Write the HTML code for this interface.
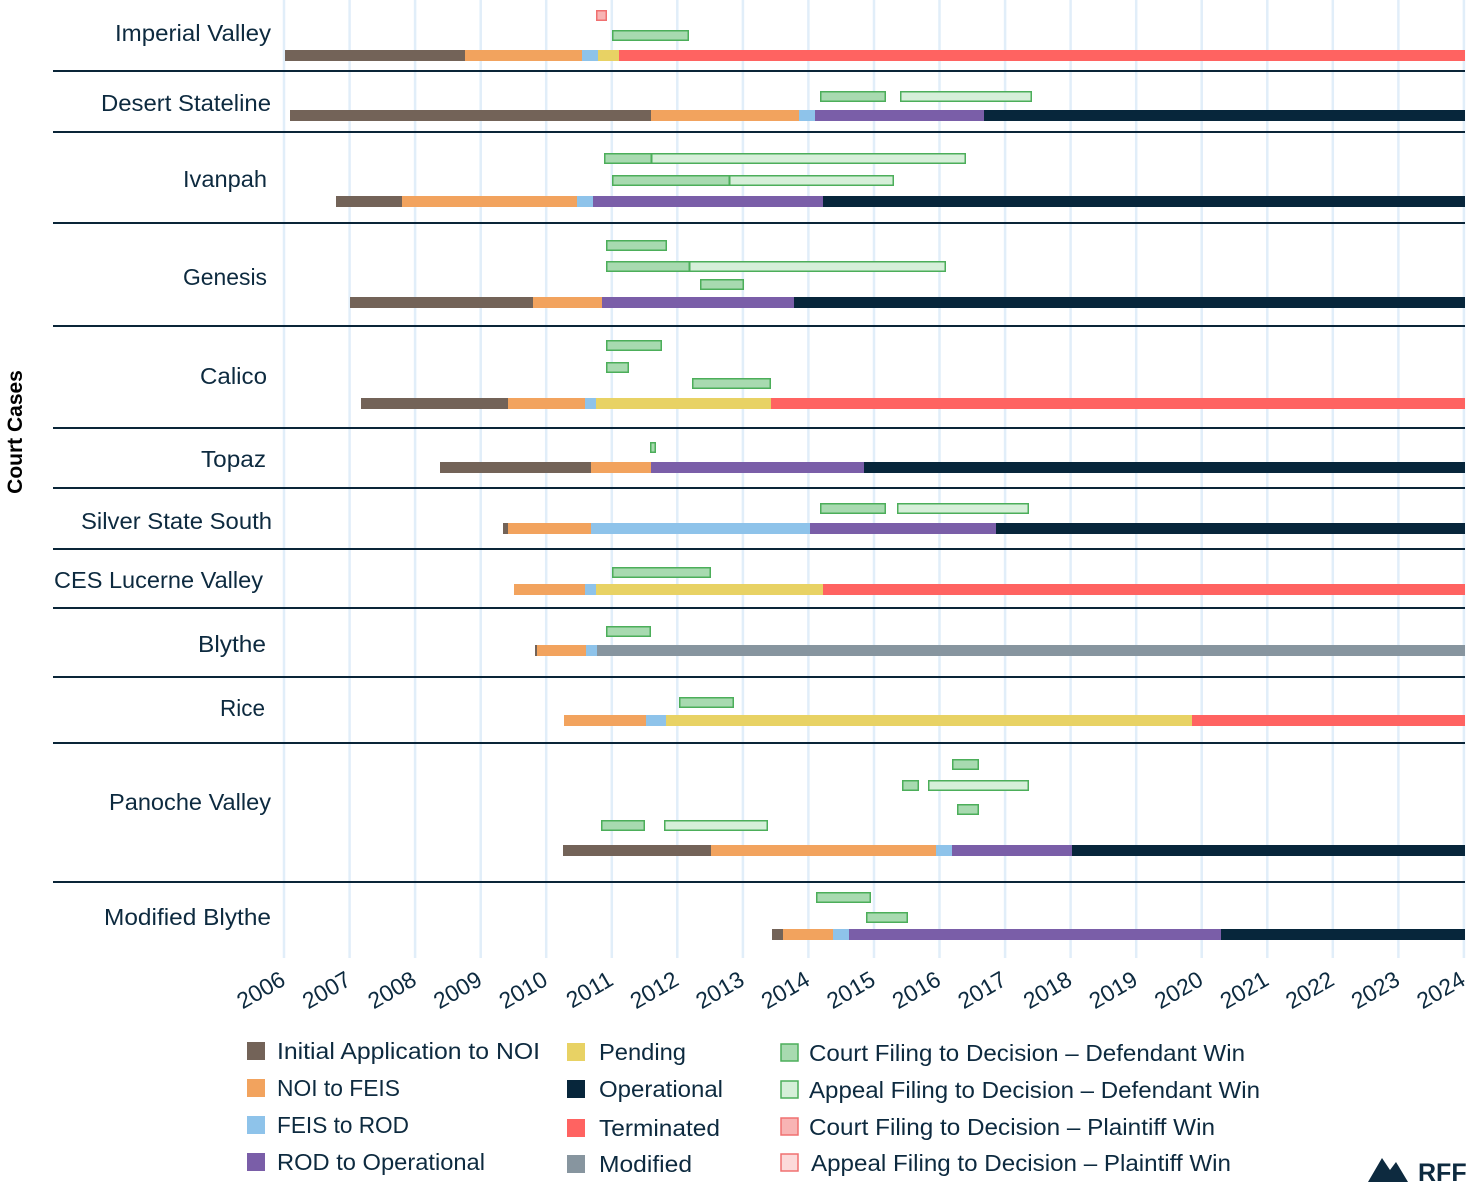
<!DOCTYPE html>
<html><head><meta charset="utf-8"><style>
body{margin:0;background:#fff;}
svg{display:block;font-family:"Liberation Sans",sans-serif;}
</style></head><body>
<svg width="1480" height="1186" viewBox="0 0 1480 1186" xmlns="http://www.w3.org/2000/svg">
<g stroke="#e1eef9" stroke-width="2.5">
<line x1="284" y1="0" x2="284" y2="958"/><line x1="349.6" y1="0" x2="349.6" y2="958"/><line x1="415.1" y1="0" x2="415.1" y2="958"/><line x1="480.7" y1="0" x2="480.7" y2="958"/><line x1="546.2" y1="0" x2="546.2" y2="958"/><line x1="611.8" y1="0" x2="611.8" y2="958"/><line x1="677.3" y1="0" x2="677.3" y2="958"/><line x1="742.9" y1="0" x2="742.9" y2="958"/><line x1="808.4" y1="0" x2="808.4" y2="958"/><line x1="874" y1="0" x2="874" y2="958"/><line x1="939.5" y1="0" x2="939.5" y2="958"/><line x1="1005.1" y1="0" x2="1005.1" y2="958"/><line x1="1070.6" y1="0" x2="1070.6" y2="958"/><line x1="1136.2" y1="0" x2="1136.2" y2="958"/><line x1="1201.7" y1="0" x2="1201.7" y2="958"/><line x1="1267.3" y1="0" x2="1267.3" y2="958"/><line x1="1332.8" y1="0" x2="1332.8" y2="958"/><line x1="1398.4" y1="0" x2="1398.4" y2="958"/><line x1="1463.9" y1="0" x2="1463.9" y2="958"/>
</g>
<g stroke="#0a2538" stroke-width="2">
<line x1="53" y1="71" x2="1465" y2="71"/><line x1="53" y1="132" x2="1465" y2="132"/><line x1="53" y1="223" x2="1465" y2="223"/><line x1="53" y1="326" x2="1465" y2="326"/><line x1="53" y1="428" x2="1465" y2="428"/><line x1="53" y1="488" x2="1465" y2="488"/><line x1="53" y1="549" x2="1465" y2="549"/><line x1="53" y1="608" x2="1465" y2="608"/><line x1="53" y1="677" x2="1465" y2="677"/><line x1="53" y1="743" x2="1465" y2="743"/><line x1="53" y1="882" x2="1465" y2="882"/>
</g>
<g>
<rect x="285" y="50" width="180" height="11" fill="#736358"/><rect x="465" y="50" width="117" height="11" fill="#f2a35e"/><rect x="582" y="50" width="16" height="11" fill="#8ec3ea"/><rect x="598" y="50" width="21" height="11" fill="#e8d264"/><rect x="619" y="50" width="846" height="11" fill="#ff6361"/>
<rect x="290" y="110" width="361" height="11" fill="#736358"/><rect x="651" y="110" width="148" height="11" fill="#f2a35e"/><rect x="799" y="110" width="16" height="11" fill="#8ec3ea"/><rect x="815" y="110" width="169" height="11" fill="#7a5ea8"/><rect x="984" y="110" width="481" height="11" fill="#07263b"/>
<rect x="336" y="196" width="66" height="11" fill="#736358"/><rect x="402" y="196" width="175" height="11" fill="#f2a35e"/><rect x="577" y="196" width="16" height="11" fill="#8ec3ea"/><rect x="593" y="196" width="230" height="11" fill="#7a5ea8"/><rect x="823" y="196" width="642" height="11" fill="#07263b"/>
<rect x="350" y="297" width="183" height="11" fill="#736358"/><rect x="533" y="297" width="69" height="11" fill="#f2a35e"/><rect x="602" y="297" width="192" height="11" fill="#7a5ea8"/><rect x="794" y="297" width="671" height="11" fill="#07263b"/>
<rect x="361" y="398" width="147" height="11" fill="#736358"/><rect x="508" y="398" width="77" height="11" fill="#f2a35e"/><rect x="585" y="398" width="11" height="11" fill="#8ec3ea"/><rect x="596" y="398" width="175" height="11" fill="#e8d264"/><rect x="771" y="398" width="694" height="11" fill="#ff6361"/>
<rect x="440" y="462" width="151" height="11" fill="#736358"/><rect x="591" y="462" width="60" height="11" fill="#f2a35e"/><rect x="651" y="462" width="213" height="11" fill="#7a5ea8"/><rect x="864" y="462" width="601" height="11" fill="#07263b"/>
<rect x="503" y="523" width="5" height="11" fill="#736358"/><rect x="508" y="523" width="83" height="11" fill="#f2a35e"/><rect x="591" y="523" width="219" height="11" fill="#8ec3ea"/><rect x="810" y="523" width="186" height="11" fill="#7a5ea8"/><rect x="996" y="523" width="469" height="11" fill="#07263b"/>
<rect x="514" y="584" width="71" height="11" fill="#f2a35e"/><rect x="585" y="584" width="11" height="11" fill="#8ec3ea"/><rect x="596" y="584" width="227" height="11" fill="#e8d264"/><rect x="823" y="584" width="642" height="11" fill="#ff6361"/>
<rect x="535" y="645" width="2" height="11" fill="#736358"/><rect x="537" y="645" width="49" height="11" fill="#f2a35e"/><rect x="586" y="645" width="11" height="11" fill="#8ec3ea"/><rect x="597" y="645" width="868" height="11" fill="#87959f"/>
<rect x="564" y="715" width="82" height="11" fill="#f2a35e"/><rect x="646" y="715" width="20" height="11" fill="#8ec3ea"/><rect x="666" y="715" width="526" height="11" fill="#e8d264"/><rect x="1192" y="715" width="273" height="11" fill="#ff6361"/>
<rect x="563" y="845" width="148" height="11" fill="#736358"/><rect x="711" y="845" width="225" height="11" fill="#f2a35e"/><rect x="936" y="845" width="16" height="11" fill="#8ec3ea"/><rect x="952" y="845" width="120" height="11" fill="#7a5ea8"/><rect x="1072" y="845" width="393" height="11" fill="#07263b"/>
<rect x="772" y="929" width="11" height="11" fill="#736358"/><rect x="783" y="929" width="50" height="11" fill="#f2a35e"/><rect x="833" y="929" width="16" height="11" fill="#8ec3ea"/><rect x="849" y="929" width="372" height="11" fill="#7a5ea8"/><rect x="1221" y="929" width="244" height="11" fill="#07263b"/>
</g>
<g stroke-width="1.5">
<rect x="596.75" y="10.75" width="9.5" height="9.5" fill="#f8b4b4" stroke="#f07070"/>
<g stroke="#4cae5a">
<rect x="612.75" y="30.75" width="75.5" height="9.5" fill="#a8dab0"/>
<rect x="820.75" y="91.75" width="64.5" height="9.5" fill="#a8dab0"/>
<rect x="900.75" y="91.75" width="130.5" height="9.5" fill="#d6efd9"/>
<rect x="651.75" y="153.75" width="313.5" height="9.5" fill="#d6efd9"/>
<rect x="604.75" y="153.75" width="46.5" height="9.5" fill="#a8dab0"/>
<rect x="729.75" y="175.75" width="163.5" height="9.5" fill="#d6efd9"/>
<rect x="612.75" y="175.75" width="116.5" height="9.5" fill="#a8dab0"/>
<rect x="606.75" y="240.75" width="59.5" height="9.5" fill="#a8dab0"/>
<rect x="689.75" y="261.75" width="255.5" height="9.5" fill="#d6efd9"/>
<rect x="606.75" y="261.75" width="82.5" height="9.5" fill="#a8dab0"/>
<rect x="700.75" y="279.75" width="42.5" height="9.5" fill="#a8dab0"/>
<rect x="606.75" y="340.75" width="54.5" height="9.5" fill="#a8dab0"/>
<rect x="606.75" y="362.75" width="21.5" height="9.5" fill="#a8dab0"/>
<rect x="692.75" y="378.75" width="77.5" height="9.5" fill="#a8dab0"/>
<rect x="650.75" y="442.75" width="4.5" height="9.5" fill="#a8dab0"/>
<rect x="820.75" y="503.75" width="64.5" height="9.5" fill="#a8dab0"/>
<rect x="897.75" y="503.75" width="130.5" height="9.5" fill="#d6efd9"/>
<rect x="612.75" y="567.75" width="97.5" height="9.5" fill="#a8dab0"/>
<rect x="606.75" y="626.75" width="43.5" height="9.5" fill="#a8dab0"/>
<rect x="679.75" y="697.75" width="53.5" height="9.5" fill="#a8dab0"/>
<rect x="952.75" y="759.75" width="25.5" height="9.5" fill="#a8dab0"/>
<rect x="902.75" y="780.75" width="15.5" height="9.5" fill="#a8dab0"/>
<rect x="928.75" y="780.75" width="99.5" height="9.5" fill="#d6efd9"/>
<rect x="957.75" y="804.75" width="20.5" height="9.5" fill="#a8dab0"/>
<rect x="601.75" y="820.75" width="42.5" height="9.5" fill="#a8dab0"/>
<rect x="664.75" y="820.75" width="102.5" height="9.5" fill="#d6efd9"/>
<rect x="816.75" y="892.75" width="53.5" height="9.5" fill="#a8dab0"/>
<rect x="866.75" y="912.75" width="40.5" height="9.5" fill="#a8dab0"/>
</g>
</g>
<g font-size="23" fill="#0d2a3f" text-anchor="end" lengthAdjust="spacingAndGlyphs">
<text x="271" y="41" textLength="156" lengthAdjust="spacingAndGlyphs">Imperial Valley</text>
<text x="271" y="111" textLength="170" lengthAdjust="spacingAndGlyphs">Desert Stateline</text>
<text x="267" y="187" textLength="84" lengthAdjust="spacingAndGlyphs">Ivanpah</text>
<text x="267" y="285" textLength="84" lengthAdjust="spacingAndGlyphs">Genesis</text>
<text x="267" y="384" textLength="67" lengthAdjust="spacingAndGlyphs">Calico</text>
<text x="266" y="467" textLength="65" lengthAdjust="spacingAndGlyphs">Topaz</text>
<text x="272" y="529" textLength="191" lengthAdjust="spacingAndGlyphs">Silver State South</text>
<text x="263" y="588" textLength="209" lengthAdjust="spacingAndGlyphs">CES Lucerne Valley</text>
<text x="266" y="652" textLength="68" lengthAdjust="spacingAndGlyphs">Blythe</text>
<text x="265" y="716" textLength="45" lengthAdjust="spacingAndGlyphs">Rice</text>
<text x="271" y="810" textLength="162" lengthAdjust="spacingAndGlyphs">Panoche Valley</text>
<text x="271" y="925" textLength="167" lengthAdjust="spacingAndGlyphs">Modified Blythe</text>
</g>
<g font-size="23" fill="#0d2a3f" text-anchor="end">
<text transform="translate(287,984) rotate(-30)">2006</text>
<text transform="translate(352.6,984) rotate(-30)">2007</text>
<text transform="translate(418.1,984) rotate(-30)">2008</text>
<text transform="translate(483.7,984) rotate(-30)">2009</text>
<text transform="translate(549.2,984) rotate(-30)">2010</text>
<text transform="translate(614.8,984) rotate(-30)">2011</text>
<text transform="translate(680.3,984) rotate(-30)">2012</text>
<text transform="translate(745.9,984) rotate(-30)">2013</text>
<text transform="translate(811.4,984) rotate(-30)">2014</text>
<text transform="translate(877,984) rotate(-30)">2015</text>
<text transform="translate(942.5,984) rotate(-30)">2016</text>
<text transform="translate(1008.1,984) rotate(-30)">2017</text>
<text transform="translate(1073.6,984) rotate(-30)">2018</text>
<text transform="translate(1139.2,984) rotate(-30)">2019</text>
<text transform="translate(1204.7,984) rotate(-30)">2020</text>
<text transform="translate(1270.3,984) rotate(-30)">2021</text>
<text transform="translate(1335.8,984) rotate(-30)">2022</text>
<text transform="translate(1401.4,984) rotate(-30)">2023</text>
<text transform="translate(1466.9,984) rotate(-30)">2024</text>
</g>
<text transform="translate(22,432) rotate(-90)" text-anchor="middle" font-size="21" font-weight="bold" fill="#000">Court Cases</text>
<g font-size="23" fill="#0d2a3f">
<rect x="247" y="1042" width="18" height="18" fill="#736358"/><text x="277" y="1059" textLength="263" lengthAdjust="spacingAndGlyphs">Initial Application to NOI</text>
<rect x="247" y="1079" width="18" height="18" fill="#f2a35e"/><text x="277" y="1096" textLength="123" lengthAdjust="spacingAndGlyphs">NOI to FEIS</text>
<rect x="247" y="1116" width="18" height="18" fill="#8ec3ea"/><text x="277" y="1133" textLength="132" lengthAdjust="spacingAndGlyphs">FEIS to ROD</text>
<rect x="247" y="1153" width="18" height="18" fill="#7a5ea8"/><text x="277" y="1170" textLength="208" lengthAdjust="spacingAndGlyphs">ROD to Operational</text>
<rect x="567" y="1043" width="18" height="18" fill="#e8d264"/><text x="599" y="1060" textLength="87" lengthAdjust="spacingAndGlyphs">Pending</text>
<rect x="567" y="1080" width="18" height="18" fill="#07263b"/><text x="599" y="1097" textLength="124" lengthAdjust="spacingAndGlyphs">Operational</text>
<rect x="567" y="1119" width="18" height="18" fill="#ff6361"/><text x="599" y="1136" textLength="121" lengthAdjust="spacingAndGlyphs">Terminated</text>
<rect x="567" y="1155" width="18" height="18" fill="#87959f"/><text x="599" y="1172" textLength="93" lengthAdjust="spacingAndGlyphs">Modified</text>
<rect x="781" y="1044" width="17" height="17" fill="#a8dab0" stroke="#4cae5a" stroke-width="1.5"/><text x="809" y="1061" textLength="436" lengthAdjust="spacingAndGlyphs">Court Filing to Decision – Defendant Win</text>
<rect x="781" y="1081" width="17" height="17" fill="#d6efd9" stroke="#4cae5a" stroke-width="1.5"/><text x="809" y="1098" textLength="451" lengthAdjust="spacingAndGlyphs">Appeal Filing to Decision – Defendant Win</text>
<rect x="781" y="1118" width="17" height="17" fill="#f8b4b4" stroke="#f07070" stroke-width="1.5"/><text x="809" y="1135" textLength="406" lengthAdjust="spacingAndGlyphs">Court Filing to Decision – Plaintiff Win</text>
<rect x="781" y="1154" width="17" height="17" fill="#fcdada" stroke="#f07070" stroke-width="1.5"/><text x="811" y="1171" textLength="420" lengthAdjust="spacingAndGlyphs">Appeal Filing to Decision – Plaintiff Win</text>
</g>
<g fill="#0d2a3f">
<path d="M1368 1182 L1382 1158 L1390 1170 L1396 1162 L1408 1182 Z"/>
<text x="1418" y="1181" font-size="25" font-weight="bold">RFF</text>
</g>
</svg>
</body></html>
